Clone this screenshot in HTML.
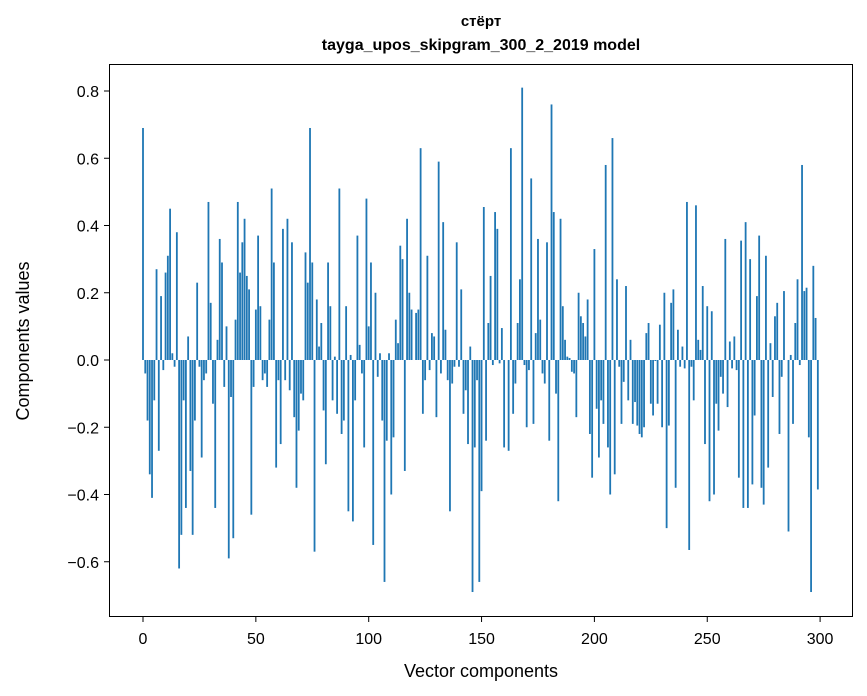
<!DOCTYPE html>
<html><head><meta charset="utf-8"><style>
html,body{margin:0;padding:0;background:#fff;}
svg{display:block;font-family:"Liberation Sans","DejaVu Sans",sans-serif;}
</style></head><body>
<svg id="chart" width="867" height="696" viewBox="0 0 867 696">
<text x="481" y="26" text-anchor="middle" font-size="15" font-weight="bold">стёрт</text>
<text x="481" y="50" text-anchor="middle" font-size="16" font-weight="bold">tayga_upos_skipgram_300_2_2019 model</text>
<g id="bars"></g>
<g id="axes"></g>
<rect x="109.5" y="64.5" width="743" height="552" fill="none" stroke="#000" stroke-width="1"/>
<text x="481" y="677" text-anchor="middle" font-size="18">Vector components</text>
<text transform="translate(29,341) rotate(-90)" text-anchor="middle" font-size="18">Components values</text>
</svg>
<script>
const values = [
0.69,-0.04,-0.18,-0.34,-0.41,-0.12,0.27,-0.27,0.19,-0.03,0.26,0.31,0.45,0.02,-0.02,0.38,-0.62,-0.52,-0.12,-0.44,0.07,-0.33,-0.52,-0.18,0.23,-0.02,-0.29,-0.06,-0.04,0.47,0.17,-0.13,-0.44,0.06,0.36,0.29,-0.08,0.10,-0.59,-0.11,-0.53,0.12,0.47,0.26,0.35,0.42,0.25,0.21,-0.46,-0.08,0.15,
0.37,0.16,-0.06,-0.04,-0.08,0.12,0.51,0.29,-0.32,-0.06,-0.25,0.39,-0.06,0.42,-0.09,0.35,-0.17,-0.38,-0.21,-0.10,-0.12,0.32,0.23,0.69,0.29,-0.57,0.18,0.04,0.11,-0.15,-0.31,0.29,0.16,-0.12,0.01,-0.16,0.51,-0.22,-0.18,0.16,-0.45,0.015,-0.48,-0.12,0.37,0.045,-0.04,-0.26,0.48,0.10,
0.29,-0.55,0.20,-0.05,0.02,-0.18,-0.66,-0.24,0.02,-0.40,-0.23,0.12,0.05,0.34,0.30,-0.33,0.42,0.20,0.15,0.0,0.14,0.15,0.63,-0.16,-0.06,0.31,-0.03,0.08,0.07,-0.17,0.59,-0.04,0.41,0.09,-0.06,-0.45,-0.07,-0.02,0.35,-0.02,0.21,-0.16,-0.09,-0.25,0.04,-0.69,-0.26,-0.06,-0.66,-0.39,
0.455,-0.24,0.11,0.25,-0.015,0.44,0.39,-0.01,0.095,-0.26,0.0,-0.27,0.63,-0.16,-0.07,0.11,0.24,0.81,-0.015,-0.2,-0.03,0.54,-0.19,0.08,0.36,0.12,-0.04,-0.07,0.35,-0.24,0.76,0.44,-0.10,-0.42,0.42,0.16,0.06,0.01,0.006,-0.035,-0.04,-0.17,0.20,0.13,0.11,0.07,0.18,-0.22,-0.35,0.33,
-0.145,-0.29,-0.12,-0.19,0.58,-0.26,-0.40,0.66,-0.34,0.24,-0.02,-0.19,-0.065,0.22,-0.12,0.06,-0.19,-0.125,-0.195,-0.22,-0.23,-0.20,0.08,0.11,-0.13,-0.165,-0.003,-0.13,0.105,-0.20,0.20,-0.50,-0.195,0.17,0.21,-0.38,0.09,-0.02,0.04,-0.025,0.47,-0.565,-0.02,-0.12,0.46,0.06,0.03,0.22,-0.25,0.16,
-0.42,0.145,-0.40,-0.13,-0.21,-0.05,-0.10,0.36,-0.14,0.055,-0.025,0.07,-0.03,-0.35,0.355,-0.44,0.41,-0.44,0.30,-0.37,-0.165,0.19,0.37,-0.38,-0.43,0.31,-0.32,0.05,-0.11,0.13,0.17,-0.22,-0.05,0.205,0.0,-0.51,0.015,-0.19,0.11,0.24,-0.015,0.58,0.205,0.215,-0.23,-0.69,0.28,0.125,-0.385
];
const xTicks = [0,50,100,150,200,250,300];
const yTicks = [-0.6,-0.4,-0.2,0.0,0.2,0.4,0.6,0.8];

const NS = "http://www.w3.org/2000/svg";
function xScale(v){ return 143 + 2.257*v; }
function yScale(v){ return 360 - 336.25*v; }

const barsG = document.getElementById('bars');
values.forEach((v,i)=>{
  const r = document.createElementNS(NS,'rect');
  const x0 = xScale(i-0.4), x1 = xScale(i+0.4);
  const y0 = yScale(Math.max(v,0)), y1 = yScale(Math.min(v,0));
  r.setAttribute('x', x0);
  r.setAttribute('width', x1-x0);
  r.setAttribute('y', y0);
  r.setAttribute('height', Math.max(y1-y0,0.01));
  r.setAttribute('fill', '#1f77b4');
  
  
  barsG.appendChild(r);
});

const axesG = document.getElementById('axes');
xTicks.forEach(t=>{
  const x = xScale(t);
  const l = document.createElementNS(NS,'line');
  l.setAttribute('x1',x); l.setAttribute('x2',x);
  l.setAttribute('y1',617); l.setAttribute('y2',622);
  l.setAttribute('stroke','#000');
  
  
  axesG.appendChild(l);
  const tx = document.createElementNS(NS,'text');
  tx.setAttribute('x',x); tx.setAttribute('y',644);
  tx.setAttribute('text-anchor','middle'); tx.setAttribute('font-size','16');
  tx.textContent = String(t);
  
  
  axesG.appendChild(tx);
});
yTicks.forEach(t=>{
  const y = yScale(t);
  const l = document.createElementNS(NS,'line');
  l.setAttribute('x1',104); l.setAttribute('x2',109);
  l.setAttribute('y1',y); l.setAttribute('y2',y);
  l.setAttribute('stroke','#000');
  
  
  axesG.appendChild(l);
  const tx = document.createElementNS(NS,'text');
  tx.setAttribute('x',99); tx.setAttribute('y',y+6);
  tx.setAttribute('text-anchor','end'); tx.setAttribute('font-size','16');
  tx.textContent = (t<0?'\u2212':'') + Math.abs(t).toFixed(1);
  
  
  axesG.appendChild(tx);
});
</script>
</body></html>
